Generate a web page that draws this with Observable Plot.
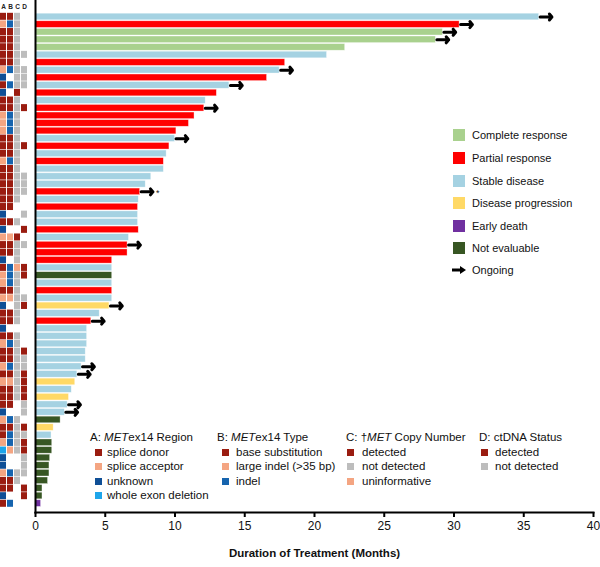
<!DOCTYPE html>
<html><head><meta charset="utf-8">
<script src="https://cdn.jsdelivr.net/npm/d3@7"></script>
<script src="https://cdn.jsdelivr.net/npm/@observablehq/plot@0.6"></script>
<style>
body{margin:0;background:#fff;font-family:"Liberation Sans",Arial,sans-serif;}
#wrap{position:relative;width:600px;height:567px;overflow:hidden;background:#fff;}
#wrap > svg{position:absolute;left:0;top:0;}
.lg{position:absolute;white-space:pre;color:#111;line-height:14px;height:14px;}
.sw{display:inline-block;vertical-align:middle;}
</style></head>
<body><div id="wrap"></div>
<script>
// ---- data ----
const responseCats = ["Complete response","Partial response","Stable disease","Disease progression","Early death","Not evaluable"];
const responseCodes = ["CR","PR","SD","PD","ED","NE"];
const responseColors = ["#A9D18E","#FF0000","#A5D2E2","#FFD966","#7030A0","#375623"];
const response = ["SD","PR","CR","CR","CR","SD","PR","SD","PR","SD",
  "PR","SD","PR","PR","PR","PR","SD","PR","SD","PR",
  "SD","SD","SD","PR","SD","PR","SD","SD","PR","SD",
  "PR","PR","PR","SD","NE","SD","PR","SD","PD","SD",
  "PR","SD","SD","SD","SD","SD","SD","SD","PD","SD",
  "PD","SD","SD","NE","PD","SD","NE","NE","NE","NE",
  "NE","NE","NE","NE","ED"];
const months = [36.1,30.4,29.2,28.7,22.2,20.9,17.9,17.5,16.6,13.9,
  13.0,12.2,12.1,11.4,11.0,10.1,10.0,9.6,9.4,9.2,
  9.2,8.3,7.9,7.5,7.4,7.35,7.35,7.35,7.4,6.7,
  6.6,6.6,5.5,5.5,5.5,5.5,5.5,5.5,5.3,4.6,
  4.0,3.7,3.7,3.7,3.6,3.6,3.3,3.0,2.85,2.6,
  2.4,2.3,2.1,1.8,1.3,1.15,1.2,1.2,1.05,1.0,
  1.0,0.9,0.5,0.5,0.4];
const ongoingRows = [1,2,3,4,8,10,13,17,24,31,39,41,47,48,52,53];
const starRows = [24];
const xTicks = [0,5,10,15,20,25,30,35,40];

// A: METex14 region  (d donor, a acceptor, u unknown, w whole exon deletion)
const regionA = ["d","a","d","d","d","d","d","a","u","d",
  "u","d","d","a","a","a","d","d","d","a",
  "d","d","d","d","d","d","u","d","u","a",
  "d","d","u","d","a","a","d","a","u","d",
  "d","u","d","a","d","d","a","d","a","d",
  "d","d","u","a","d","d","a","w","u","u",
  "a","d","d","u","d"];
// B: METex14 type (b base substitution, l large indel, i indel)
const typeB = ["b","i","b","b","b","b","b","i","","i",
  "","b","b","i","i","i","b","b","b","i",
  "b","b","b","b","b","b","","b","","l",
  "b","b","","i","i","i","b","l","","b",
  "b","","b","i","b","b","i","b","l","b",
  "b","b","","i","b","i","i","l","","",
  "i","b","b","","i"];
// C: MET copy number (y detected, n not detected, x uninformative)
const copyC = ["n","n","n","n","n","n","n","n","n","n",
  "y","n","n","n","n","n","n","n","n","n",
  "n","n","n","n","n","","","n","","y",
  "n","n","n","x","n","n","n","n","n","n",
  "n","","n","n","n","n","n","n","n","n",
  "n","","","n","n","n","n","n","","",
  "n","n","","",""];
// D: ctDNA status (y detected, n not detected)
const ctdnaD = ["","","","","","n","","n","n","n",
  "","","y","","","","","y","","",
  "","n","n","n","","","n","","y","",
  "n","","","y","y","","","n","y","",
  "","","","","y","n","n","y","y","y",
  "y","n","n","","y","n","y","y","n","n",
  "n","","y","y",""];

const regionLegend = [["d","splice donor","#9A1C10"],["a","splice acceptor","#F4A582"],["u","unknown","#0F4F96"],["w","whole exon deletion","#1EA5EA"]];
const typeLegend = [["b","base substitution","#9A1C10"],["l","large indel (>35 bp)","#F4A582"],["i","indel","#1664AE"]];
const copyLegend = [["y","detected","#9A1C10"],["n","not detected","#BDBDBD"],["x","uninformative","#F4A582"]];
const ctdnaLegend = [["y","detected","#9A1C10"],["n","not detected","#BDBDBD"]];

// ---- build ----
const ids = months.map((m, i) => i + 1);
const rows = ids.map((id, i) => ({
  id, months: months[i],
  response: responseCats[responseCodes.indexOf(response[i])],
  ongoing: ongoingRows.includes(id), star: starRows.includes(id)
}));

const yBand = {domain: ids, axis: null, insetTop: 12.2, insetBottom: 4.6};

const main = Plot.plot({
  width: 600, height: 567,
  marginLeft: 35, marginRight: 7, marginTop: 0, marginBottom: 55,
  style: {fontFamily: "Liberation Sans, Arial, sans-serif", background: "transparent"},
  x: {domain: [0, 40]},
  y: {...yBand, padding: 0.13},
  color: {domain: responseCats, range: responseColors},
  marks: [
    Plot.barX(rows, {x: "months", y: "id", fill: "response", stroke: "#fff", strokeWidth: 0.6, strokeOpacity: 0.6}),
    Plot.arrow(rows.filter(d => d.ongoing), {x1: "months", x2: d => d.months + 0.85, y: "id", dx: 1,
      stroke: "#000", strokeWidth: 3, headLength: 4, headAngle: 100}),
    Plot.text(rows.filter(d => d.star), {x: d => d.months + 0.85, y: "id", text: () => "*", dx: 4, dy: 1,
      textAnchor: "start", fontSize: 9, fill: "#222"}),
    Plot.axisX({ticks: xTicks, tickSize: 5, strokeWidth: 2, tickPadding: 4, fontSize: 12, label: null, stroke: "#000", fill: "#111"}),
    Plot.frame({anchor: "left", stroke: "#000", strokeWidth: 2}),
    Plot.frame({anchor: "bottom", stroke: "#000", strokeWidth: 2}),
    Plot.text(["Duration of Treatment (Months)"], {frameAnchor: "bottom", dy: 44, fontWeight: "bold", fontSize: 11.5, fill: "#111"})
  ]
});

const cellColor = {};
regionLegend.forEach(([k,, c]) => cellColor["A" + k] = c);
typeLegend.forEach(([k,, c]) => cellColor["B" + k] = c);
copyLegend.forEach(([k,, c]) => cellColor["C" + k] = c);
ctdnaLegend.forEach(([k,, c]) => cellColor["D" + k] = c);
const cols = ["A","B","C","D"];
const gridData = [];
ids.forEach((id, i) => {
  [["A", regionA], ["B", typeB], ["C", copyC], ["D", ctdnaD]].forEach(([c, arr]) => {
    if (arr[i]) gridData.push({id, col: c, key: c + arr[i]});
  });
});

const grid = Plot.plot({
  width: 30, height: 567,
  marginLeft: 0, marginRight: 0, marginTop: 0, marginBottom: 55,
  style: {fontFamily: "Liberation Sans, Arial, sans-serif", background: "transparent", overflow: "visible"},
  x: {domain: cols, range: [-0.5, 28.5], padding: 0.1, axis: null},
  y: {...yBand, padding: 0.08},
  marks: [
    Plot.cell(gridData, {x: "col", y: "id", fill: d => cellColor[d.key]}),
    Plot.text(cols, {x: d => d, text: d => d, frameAnchor: "top", dy: 4, fontSize: 6.5, fontWeight: "bold", fill: "#222"})
  ]
});

const wrap = document.getElementById("wrap");
wrap.appendChild(main);
wrap.appendChild(grid);

// right legend
const rightY = [135, 158, 181, 203, 226, 248];
responseCats.forEach((label, i) => {
  const s = document.createElement("div");
  s.style.cssText = `position:absolute;left:453px;top:${rightY[i] - 6}px;width:12px;height:12px;background:${responseColors[i]}`;
  wrap.appendChild(s);
  const d = document.createElement("div");
  d.className = "lg";
  d.style.cssText = `left:472px;top:${rightY[i] - 7}px;font-size:11px;`;
  d.textContent = label;
  wrap.appendChild(d);
});
{
  const a = document.createElementNS("http://www.w3.org/2000/svg", "svg");
  a.setAttribute("width", "15"); a.setAttribute("height", "10");
  a.style.cssText = "position:absolute;left:452px;top:265px;";
  a.innerHTML = `<line x1="0" y1="5" x2="9" y2="5" stroke="#000" stroke-width="3"/><path d="M8,1 L14,5 L8,9 Z" fill="#000"/>`;
  wrap.appendChild(a);
  const d = document.createElement("div");
  d.className = "lg";
  d.style.cssText = `left:472px;top:${270 - 7}px;font-size:11px;`;
  d.textContent = "Ongoing";
  wrap.appendChild(d);
}

// bottom legends
const blocks = [
  {hx: 90, sx: 95, tx: 107, head: 'A: <i>MET</i>ex14 Region', items: regionLegend},
  {hx: 217, sx: 222, tx: 236, head: 'B: <i>MET</i>ex14 Type', items: typeLegend},
  {hx: 346, sx: 347, tx: 362, head: 'C: †<i>MET</i> Copy Number', items: copyLegend},
  {hx: 479, sx: 481, tx: 495, head: 'D: ctDNA Status', items: ctdnaLegend}
];
const headY = 437, itemY = [452, 466, 481, 495];
blocks.forEach(b => {
  const h = document.createElement("div");
  h.className = "lg";
  h.style.cssText = `left:${b.hx}px;top:${headY - 7}px;font-size:11.5px;`;
  h.innerHTML = b.head;
  wrap.appendChild(h);
  b.items.forEach(([, label, color], i) => {
    const s = document.createElement("div");
    s.style.cssText = `position:absolute;left:${b.sx}px;top:${itemY[i] - 3.5}px;width:7px;height:7px;background:${color}`;
    wrap.appendChild(s);
    const t = document.createElement("div");
    t.className = "lg";
    t.style.cssText = `left:${b.tx}px;top:${itemY[i] - 7}px;font-size:11.5px;`;
    t.textContent = label;
    wrap.appendChild(t);
  });
});
</script>
</body></html>
